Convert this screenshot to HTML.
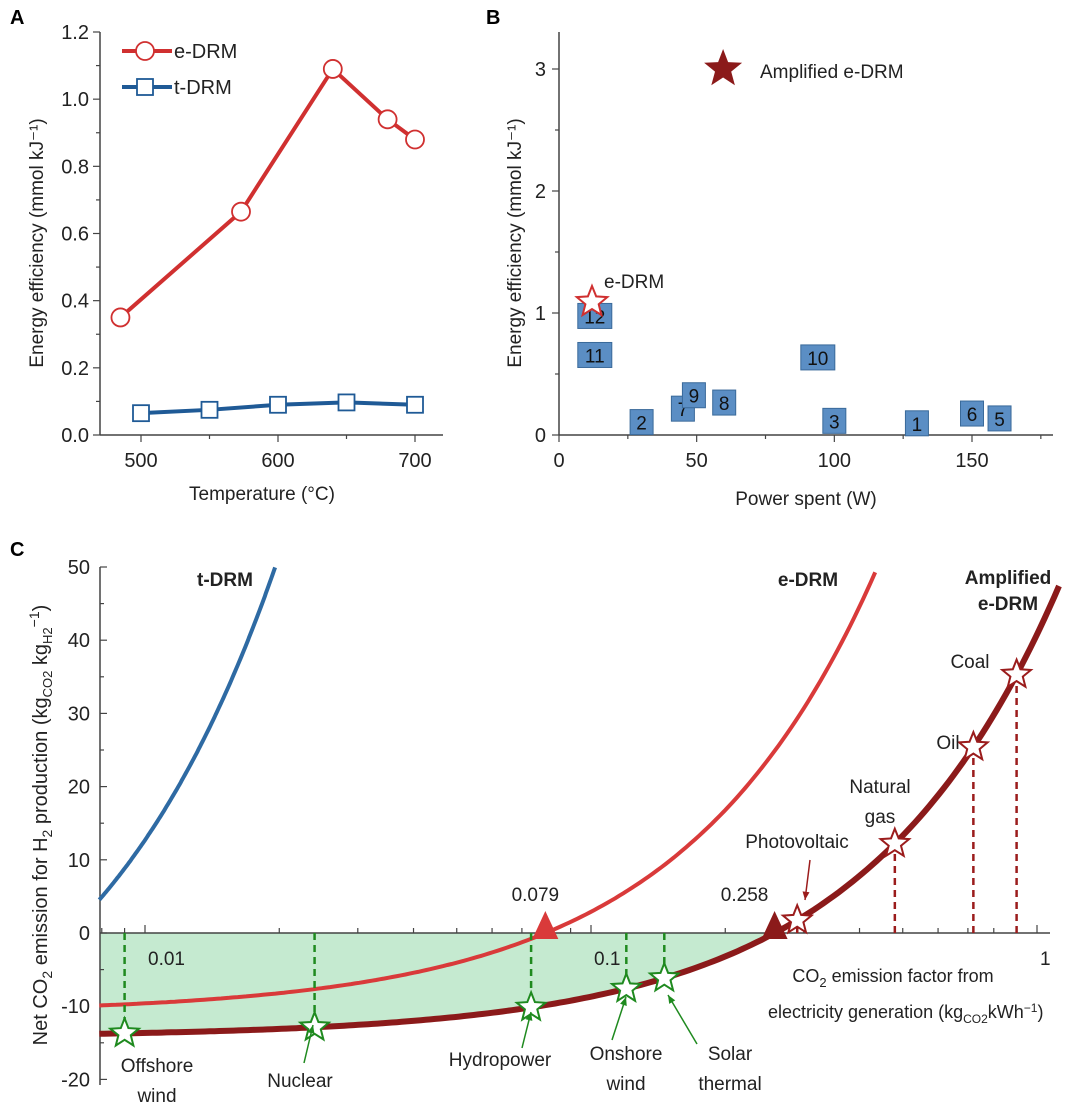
<!DOCTYPE html>
<html><head><meta charset="utf-8">
<style>
html,body{margin:0;padding:0;background:#fff;}
svg{display:block;font-family:"Liberation Sans",Arial,sans-serif;}
</style></head>
<body>
<svg id="fig" width="1080" height="1113" viewBox="0 0 1080 1113">
<text x="10" y="24" font-size="20" font-weight="bold">A</text>
<text x="486" y="24" font-size="20" font-weight="bold">B</text>
<text x="10" y="556" font-size="20" font-weight="bold">C</text>
</svg>
<script>
// ---------- Panel A data ----------
const aEdrmT=[485,573,640,680,700];
const aEdrmV=[0.35,0.665,1.09,0.94,0.88];
const aTdrmT=[500,550,600,650,700];
const aTdrmV=[0.065,0.075,0.09,0.097,0.09];
const aYTicks=[0,0.2,0.4,0.6,0.8,1.0,1.2];
const aXTicks=[500,600,700];
// ---------- Panel B data ----------
const bLabels=["12","11","2","7","9","8","10","3","1","6","5"];
const bPower=[13,13,30,45,49,60,94,100,130,150,160];
const bEff=[0.98,0.66,0.11,0.22,0.33,0.27,0.64,0.12,0.10,0.18,0.14];
const bEdrm=[12,1.09];
const bAmp=[59.6,3.0];
const bYTicks=[0,1,2,3];
const bXTicks=[0,50,100,150];
// ---------- Panel C data ----------
const cYTicks=[50,40,30,20,10,0,-10,-20];
const cXTicks=[0.01,0.1,1];
const cXTickLabels=["0.01","0.1","1"];
const cTdrm=[-26.2,3890];   // intercept, slope
const cEdrm=[-11.0,139];
const cAmp=[-14.2,55];
const cZeros=[0.079,0.258];
const cZeroLabels=["0.079","0.258"];
const cSources=["Offshore wind","Nuclear","Hydropower","Onshore wind","Solar thermal","Photovoltaic","Natural gas","Oil","Coal"];
const cFactors=[0.009,0.024,0.0734,0.12,0.146,0.29,0.48,0.72,0.90];

const NS="http://www.w3.org/2000/svg";
const svg=document.getElementById('fig');
function el(tag,attrs,parent){const e=document.createElementNS(NS,tag);for(const k in attrs)e.setAttribute(k,attrs[k]);(parent||svg).appendChild(e);return e;}
function txt(x,y,s,size,anchor,extra){const t=el('text',Object.assign({x:x,y:y,'font-size':size,'text-anchor':anchor||'middle',fill:'#222'},extra||{}));t.textContent=s;return t;}
function starPts(cx,cy,R,r){let p=[];for(let i=0;i<10;i++){const a=-Math.PI/2+i*Math.PI/5;const rr=i%2?r:R;p.push((cx+rr*Math.cos(a)).toFixed(1)+","+(cy+rr*Math.sin(a)).toFixed(1));}return p.join(" ");}

// ================= Panel A =================
const ax=v=>141+(v-500)*(415-141)/200;
const ay=v=>435-v*(435-32)/1.2;
let g=el('g',{});

el('line',{x1:100,y1:32,x2:100,y2:435,stroke:'#444','stroke-width':1.5},g);
el('line',{x1:100,y1:435,x2:443,y2:435,stroke:'#444','stroke-width':1.5},g);
for(let i=0;i<=12;i++){const y=ay(i/10);el('line',{x1:100,y1:y,x2:i%2==0?93:96,y2:y,stroke:'#444','stroke-width':1.2},g);}
aYTicks.forEach(v=>{const t=txt(89,ay(v)+7,v.toFixed(1),20,'end');});
for(let v=500;v<=700;v+=50){el('line',{x1:ax(v),y1:435,x2:ax(v),y2:v%100==0?442:439,stroke:'#444','stroke-width':1.2},g);}
aXTicks.forEach(v=>{const t=txt(ax(v),467,String(v),20);});
let t=txt(262,500,"Temperature (°C)",19);
t=txt(0,0,"Energy efficiency (mmol kJ⁻¹)",19,'middle',{transform:'translate(43,243) rotate(-90)'});
let pl=el('polyline',{points:aEdrmT.map((x,i)=>ax(x)+","+ay(aEdrmV[i])).join(" "),fill:'none',stroke:'#d03030','stroke-width':4});

aEdrmT.forEach((x,i)=>{const c=el('circle',{cx:ax(x),cy:ay(aEdrmV[i]),r:9,fill:'#fff',stroke:'#d03030','stroke-width':1.8});});
pl=el('polyline',{points:aTdrmT.map((x,i)=>ax(x)+","+ay(aTdrmV[i])).join(" "),fill:'none',stroke:'#1f5a96','stroke-width':4});

aTdrmT.forEach((x,i)=>{const r=el('rect',{x:ax(x)-8,y:ay(aTdrmV[i])-8,width:16,height:16,fill:'#fff',stroke:'#1f5a96','stroke-width':1.8});});
el('line',{x1:122,y1:51,x2:172,y2:51,stroke:'#d03030','stroke-width':4});
let lc=el('circle',{cx:145,cy:51,r:9,fill:'#fff',stroke:'#d03030','stroke-width':1.8});
txt(174,58,"e-DRM",20,'start');
el('line',{x1:122,y1:87,x2:172,y2:87,stroke:'#1f5a96','stroke-width':4});
let lr=el('rect',{x:137,y:79,width:16,height:16,fill:'#fff',stroke:'#1f5a96','stroke-width':1.8});
txt(174,94,"t-DRM",20,'start');

// ================= Panel B =================
const bx=v=>559+v*(972-559)/150;
const by=v=>435-v*(435-69)/3;
g=el('g',{});

el('line',{x1:559,y1:32,x2:559,y2:435,stroke:'#444','stroke-width':1.5},g);
el('line',{x1:559,y1:435,x2:1053,y2:435,stroke:'#444','stroke-width':1.5},g);
for(let i=0;i<=6;i++){el('line',{x1:559,y1:by(i/2),x2:i%2==0?552:555,y2:by(i/2),stroke:'#444','stroke-width':1.2},g);}
bYTicks.forEach(v=>{const t=txt(546,by(v)+7,String(v),20,'end');});
for(let v=0;v<=175;v+=25){el('line',{x1:bx(v),y1:435,x2:bx(v),y2:v%50==0?442:439,stroke:'#444','stroke-width':1.2},g);}
bXTicks.forEach(v=>{const t=txt(bx(v),467,String(v),20);});
t=txt(806,505,"Power spent (W)",19);
t=txt(0,0,"Energy efficiency (mmol kJ⁻¹)",19,'middle',{transform:'translate(521,243) rotate(-90)'});
bLabels.forEach((lab,i)=>{
  const cx=bx(bPower[i]),cy=by(bEff[i]);
  const w=lab.length>1?34:23;
  const r=el('rect',{x:cx-w/2,y:cy-12,width:w,height:25,fill:'#5b8ec4',stroke:'#3a6a9a','stroke-width':1});
  
  txt(cx,cy+8,lab,19,'middle',{fill:'#111'});
});
let s=el('polygon',{points:starPts(bx(bEdrm[0]),by(bEdrm[1]),16,7),fill:'#fff',stroke:'#d03030','stroke-width':2});

txt(604,288,"e-DRM",19,'start');
s=el('polygon',{points:starPts(bx(bAmp[0]),by(bAmp[1]),20,8.5),fill:'#8b1a1a'});

txt(760,78,"Amplified e-DRM",19,'start');

// ================= Panel C =================
const cx_=v=>591+446*Math.log10(v/0.1);
const cy_=v=>933-v*(933-567)/50;
const xmin=0.0079,xR=1050;
function curvePts(p,xmax){let pts=[];const n=200;const l0=Math.log10(xmin),l1=Math.log10(xmax);for(let i=0;i<=n;i++){const v=Math.pow(10,l0+(l1-l0)*i/n);pts.push([cx_(v),cy_(p[0]+p[1]*v)]);}return pts;}
let area=curvePts(cAmp,cZeros[1]);
let fillPts="100,"+cy_(0)+" "+area.map(p=>p[0].toFixed(1)+","+p[1].toFixed(1)).join(" ");
let poly=el('polygon',{points:fillPts,fill:'#bfe8cb',opacity:0.9});

g=el('g',{});

el('line',{x1:100,y1:567,x2:100,y2:1085,stroke:'#444','stroke-width':1.5},g);
el('line',{x1:100,y1:cy_(0),x2:xR,y2:cy_(0),stroke:'#444','stroke-width':1.5},g);
for(let v=-20;v<=50;v+=5){el('line',{x1:100,y1:cy_(v),x2:v%10==0?107:104,y2:cy_(v),stroke:'#444','stroke-width':1.2},g);}
cYTicks.forEach(v=>{const t=txt(90,cy_(v)+7,String(v),20,'end');});
[0.01,0.1].forEach(d=>{for(let m=1;m<10;m++){const x=cx_(d*m);el('line',{x1:x,y1:cy_(0),x2:x,y2:cy_(0)-(m==1?8:5),stroke:'#444','stroke-width':1.2},g);}});
el('line',{x1:cx_(1),y1:cy_(0),x2:cx_(1),y2:cy_(0)-8,stroke:'#444','stroke-width':1.2},g);
[0.008,0.009].forEach(v=>el('line',{x1:cx_(v),y1:cy_(0),x2:cx_(v),y2:cy_(0)-5,stroke:'#444','stroke-width':1.2},g));
cXTicks.forEach((v,i)=>{const t=txt(cx_(v)+3,cy_(0)+32,cXTickLabels[i],19,'start');});
t=txt(0,0,"",20,'middle',{transform:'translate(47,825) rotate(-90)'});
t.innerHTML='Net CO<tspan font-size="14" dy="5">2</tspan><tspan dy="-5"> emission for H</tspan><tspan font-size="14" dy="5">2</tspan><tspan dy="-5"> production (kg</tspan><tspan font-size="13" dy="5">CO2</tspan><tspan dy="-5"> kg</tspan><tspan font-size="13" dy="5">H2</tspan><tspan dy="-13" font-size="14">−1</tspan><tspan dy="8">)</tspan>';

t=txt(893,982,"",18);t.innerHTML='CO<tspan font-size="13" dy="5">2</tspan><tspan dy="-5"> emission factor from</tspan>';

t=txt(768,1018,"",18,'start');t.innerHTML='electricity generation (kg<tspan font-size="12" dy="5">CO2</tspan><tspan dy="-5">kWh</tspan><tspan font-size="12" dy="-6">−1</tspan><tspan dy="6">)</tspan>';

function clipPts(pts){return pts.filter(p=>p[1]>=565).map(p=>p[0].toFixed(1)+","+p[1].toFixed(1)).join(" ");}
pl=el('polyline',{points:clipPts(curvePts(cTdrm,0.03)),fill:'none',stroke:'#2e6aa3','stroke-width':4});

pl=el('polyline',{points:clipPts(curvePts(cEdrm,0.6)),fill:'none',stroke:'#d93a3a','stroke-width':4});

pl=el('polyline',{points:clipPts(curvePts(cAmp,1.12)),fill:'none',stroke:'#8b1a1a','stroke-width':6});

txt(225,586,"t-DRM",19,'middle',{'font-weight':'bold'});
txt(808,586,"e-DRM",19,'middle',{'font-weight':'bold'});
txt(1008,584,"Amplified",19,'middle',{'font-weight':'bold'});
txt(1008,610,"e-DRM",19,'middle',{'font-weight':'bold'});
const zc=['#d93a3a','#8b1a1a'];
cZeros.forEach((z,i)=>{const x=cx_(z),y=cy_(0);
  const tr=el('polygon',{points:`${x},${y-22} ${x-13},${y+6} ${x+13},${y+6}`,fill:zc[i]});
  
  txt(x-(i?30:10),y-32,cZeroLabels[i],19);
});
cFactors.forEach((f,i)=>{
  const x=cx_(f),y=cy_(cAmp[0]+cAmp[1]*f);const green=f<cZeros[1];
  const col=green?'#1f8a1f':'#9b1c1c';
  el('line',{x1:x,y1:cy_(0),x2:x,y2:y,stroke:col,'stroke-width':2.5,'stroke-dasharray':'7,5'});
  const st=el('polygon',{points:starPts(x,y,15,6.5),fill:'#fff',stroke:col,'stroke-width':2});
  
});
function lab(lines,x,y){lines.forEach((l,i)=>txt(x,y+i*30,l,19));}
lab(["Offshore","wind"],157,1072);
lab(["Nuclear"],300,1087);
lab(["Hydropower"],500,1066);
lab(["Onshore","wind"],626,1060);
lab(["Solar","thermal"],730,1060);
lab(["Photovoltaic"],797,848);
lab(["Natural","gas"],880,793);
lab(["Oil"],948,749);
lab(["Coal"],970,668);
function arrow(x1,y1,x2,y2,c){el('line',{x1:x1,y1:y1,x2:x2,y2:y2,stroke:c,'stroke-width':1.5});const a=Math.atan2(y2-y1,x2-x1);const p1=[x2-9*Math.cos(a-0.4),y2-9*Math.sin(a-0.4)],p2=[x2-9*Math.cos(a+0.4),y2-9*Math.sin(a+0.4)];el('polygon',{points:`${x2},${y2} ${p1} ${p2}`,fill:c});}
arrow(304,1063,313,1025,'#1f8a1f');
arrow(522,1048,531,1012,'#1f8a1f');
arrow(612,1040,626,997,'#1f8a1f');
arrow(697,1044,668,995,'#1f8a1f');
arrow(810,860,805,900,'#9b1c1c');
</script>
</body></html>
